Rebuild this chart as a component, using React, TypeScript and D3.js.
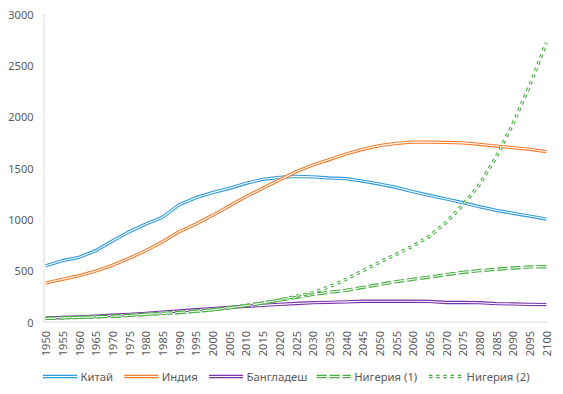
import React from "react";
import * as d3 from "d3";

const years: number[] = d3.range(1950, 2101, 5);
const yTicks: number[] = [0, 500, 1000, 1500, 2000, 2500, 3000];

const china: number[] = [548, 597, 630, 695, 789, 880, 955, 1020, 1142, 1211, 1260, 1302, 1351, 1390, 1409, 1418, 1414, 1403, 1396, 1373, 1344, 1312, 1270, 1233, 1198, 1162, 1123, 1088, 1059, 1032, 1003];
const india: number[] = [380, 416, 451, 497, 552, 620, 695, 782, 880, 955, 1039, 1130, 1221, 1302, 1383, 1464, 1529, 1582, 1636, 1682, 1718, 1740, 1753, 1752, 1749, 1745, 1731, 1714, 1698, 1682, 1659];
const bangladesh: number[] = [40, 44, 50, 58, 66, 74, 84, 96, 107, 120, 130, 143, 152, 162, 172, 180, 188, 192, 196, 202, 202, 202, 202, 200, 190, 190, 188, 178, 176, 172, 170];
const nigeria1: number[] = [35, 40, 45, 50, 56, 64, 74, 84, 92, 105, 118, 138, 160, 185, 212, 240, 268, 290, 308, 338, 365, 393, 416, 438, 462, 484, 500, 513, 526, 536, 538];
const nigeria2: number[] = [35, 40, 45, 50, 56, 64, 74, 84, 92, 105, 118, 138, 160, 185, 215, 250, 285, 344, 416, 500, 582, 660, 740, 835, 970, 1140, 1340, 1610, 1930, 2300, 2720];

const seriesNames: string[] = ["Китай", "Индия", "Бангладеш", "Нигерия (1)", "Нигерия (2)"];
const seriesValues: number[][] = [china, india, bangladesh, nigeria1, nigeria2];
const seriesColors: string[] = ["#2f9ad9", "#f47b2a", "#7a32a8", "#45ad3c", "#45ad3c"];
const seriesDash: (string | null)[] = [null, null, null, "10,3", "3.4,3.8"];

const W = 563;
const H = 394;
const FONT = "'Noto Sans', sans-serif";
const TEXT = "#595959";
const legendX: number[] = [43, 124.3, 209, 316.7, 429];

export default function App() {
  const x = d3.scaleLinear().domain([1950, 2100]).range([45.7, 546.3]);
  const y = d3.scaleLinear().domain([0, 3000]).range([322, 14]);
  const line = d3
    .line<number>()
    .x((_, i) => x(years[i]))
    .y((v) => y(v));

  return (
    <svg width={W} height={H} style={{ position: "absolute", left: 0, top: 0, background: "#fff" }}>
      <rect width={W} height={H} fill="#fff" />
      <line x1={44} x2={44} y1={y(3000)} y2={y(0)} stroke="#d9d9d9" strokeWidth={1} />
      <line x1={44} x2={548} y1={y(0)} y2={y(0)} stroke="#d9d9d9" strokeWidth={1} />
      {yTicks.map((t) => (
        <text key={t} x={33.5} y={y(t)} textAnchor="end" dominantBaseline="central" fontFamily={FONT} fontSize={11} fill={TEXT}>
          {t}
        </text>
      ))}
      {years.map((yr) => (
        <text
          key={yr}
          transform={`translate(${x(yr)},331) rotate(-90)`}
          textAnchor="end"
          dominantBaseline="central"
          fontFamily={FONT}
          fontSize={11}
          fill={TEXT}
        >
          {yr}
        </text>
      ))}
      {seriesValues.map((vals, i) => {
        const d = line(vals) || "";
        const dash = seriesDash[i] || undefined;
        return (
          <g key={seriesNames[i]}>
            <path d={d} fill="none" stroke={seriesColors[i]} strokeWidth={3.3} strokeDasharray={dash} strokeLinejoin="round" />
            <path d={d} fill="none" stroke="#fff" strokeWidth={1.1} strokeDasharray={dash} strokeLinejoin="round" />
          </g>
        );
      })}
      {seriesNames.map((name, i) => {
        const lx = legendX[i];
        const dash = seriesDash[i] || undefined;
        return (
          <g key={name}>
            <line x1={lx} x2={lx + 34} y1={376.5} y2={376.5} stroke={seriesColors[i]} strokeWidth={3.3} strokeDasharray={dash} />
            <line x1={lx} x2={lx + 34} y1={376.5} y2={376.5} stroke="#fff" strokeWidth={1.1} strokeDasharray={dash} />
            <text x={lx + 37.5} y={376} dominantBaseline="central" fontFamily={FONT} fontSize={11.3} fill={TEXT}>
              {name}
            </text>
          </g>
        );
      })}
    </svg>
  );
}
